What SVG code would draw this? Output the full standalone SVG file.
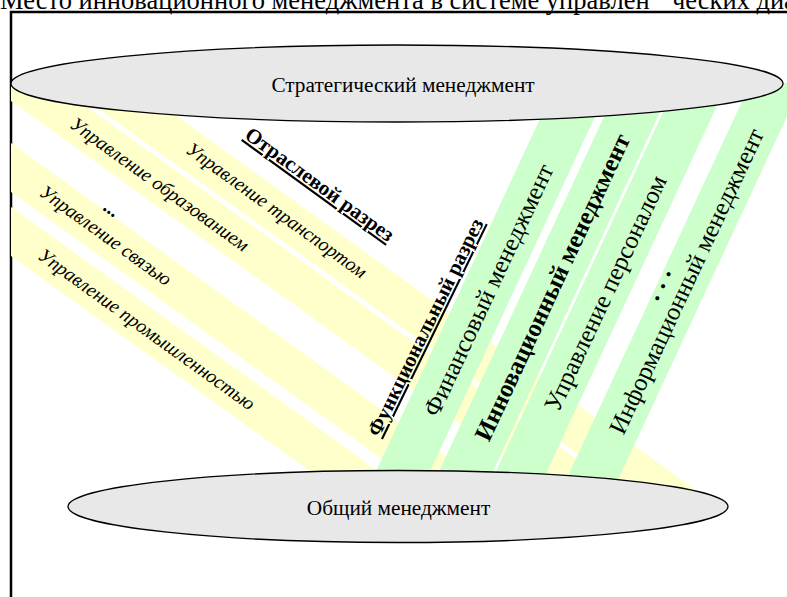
<svg xmlns="http://www.w3.org/2000/svg" width="787" height="597" viewBox="0 0 787 597">
<defs>
<clipPath id="area"><rect x="11" y="83" width="776" height="424"/></clipPath>
<style>
.yb{fill:#FFFFCC}
.gb{fill:#CCFFCC}
.ell{fill:#E8E8E8;stroke:#000;stroke-width:1.3}
.t{font-family:"Liberation Serif","Times New Roman",serif;fill:#000}
.yt{font-size:19.5px;font-style:italic}
.gt{font-size:25px}
.lab{font-size:21px;font-weight:bold;text-decoration:underline}
.et{font-size:21.3px}
</style>
</defs>
<rect width="787" height="597" fill="#fff"/>
<text class="t" x="0" y="9" font-size="26.5">Место инновационного менеджмента в системе управлен<tspan x="672">ческих диаг</tspan></text>
<path d="M11,597 V12 H787" fill="none" stroke="#000" stroke-width="2.5"/>
<g id="bands" clip-path="url(#area)">
<g id="sector-bands">
<polygon id="band-transport" class="yb" points="11,-3.1 760,536.2 760,585.2 11,45.9"/>
<polygon id="band-education" class="yb" points="11,51.9 760,591.2 760,640.2 11,100.9"/>
<polygon id="band-communication" class="yb" points="11,142.9 760,682.2 760,731.2 11,191.9"/>
<polygon id="band-industry" class="yb" points="11,206.9 760,746.2 760,795.2 11,255.9"/>
</g>
<g id="function-bands">
<polygon id="band-finance" class="gb" points="567.3,60 621.3,60 407.4,520 353.4,520"/>
<polygon id="band-innovation" class="gb" points="630.3,60 684.3,60 470.4,520 416.4,520"/>
<polygon id="band-personnel" class="gb" points="687.3,60 738.3,60 524.4,520 473.4,520"/>
<polygon id="band-information" class="gb" points="761.3,60 813.3,60 599.4,520 547.4,520"/>
</g>
</g>
<g id="sector-labels" class="t yt" text-anchor="middle">
<text transform="translate(160,184) rotate(35.75)" dy="0.35em">Управление образованием</text>
<text transform="translate(277,210) rotate(35.75)" dy="0.35em">Управление транспортом</text>
<text transform="translate(106,235) rotate(35.75)" dy="0.35em">Управление связью</text>
<text transform="translate(147,329) rotate(35.75)" dy="0.35em">Управление промышленностью</text>
<text transform="translate(112,208) rotate(35.75)" dy="0.35em" font-weight="bold" font-style="normal">...</text>
</g>
<g id="section-labels" class="t lab" text-anchor="middle">
<text transform="translate(320,184) rotate(36)" dy="0.35em">Отраслевой разрез</text>
<text transform="translate(425,327) rotate(-64)" dy="0.35em">Функциональный разрез</text>
</g>
<g id="function-labels" class="t gt" text-anchor="middle">
<text transform="translate(488,290) rotate(-65)" dy="0.35em">Финансовый менеджмент</text>
<text transform="translate(552,287) rotate(-65)" dy="0.35em" font-weight="bold">Инновационный менеджмент</text>
<text transform="translate(605,293) rotate(-65)" dy="0.35em">Управление персоналом</text>
<text transform="translate(686,281) rotate(-65)" dy="0.35em">Информационный менеджмент</text>
<text transform="translate(658,280) rotate(-65)" dy="0.35em" font-weight="bold" letter-spacing="7">...</text>
</g>
<g id="strategic">
<ellipse class="ell" cx="397" cy="83.5" rx="386" ry="38.5"/>
<text class="t et" x="403" y="92" text-anchor="middle">Стратегический менеджмент</text>
</g>
<g id="general">
<ellipse class="ell" cx="398" cy="506.5" rx="330" ry="36"/>
<text class="t et" x="398.5" y="515" text-anchor="middle">Общий менеджмент</text>
</g>
</svg>
